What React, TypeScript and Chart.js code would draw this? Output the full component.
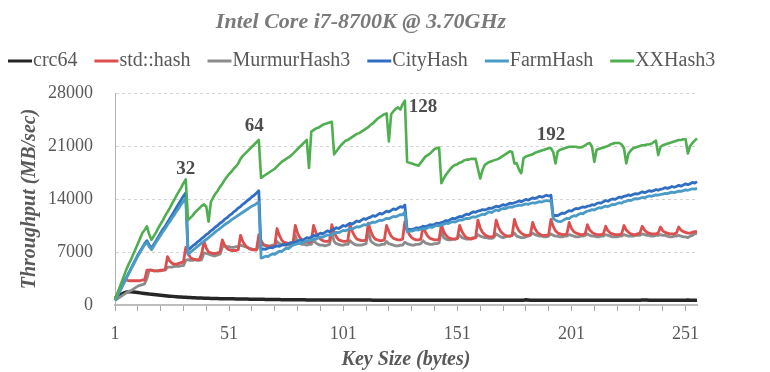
import React, { useEffect, useRef } from 'react';
import { Chart, registerables } from 'chart.js';

Chart.register(...registerables);

const TITLE = 'Intel Core i7-8700K @ 3.70GHz';
const X_TITLE = 'Key Size (bytes)';
const Y_TITLE = 'Throughput (MB/sec)';

const KEY_SIZES: string[] = Array.from({ length: 256 }, (_, i) => String(i + 1));
const Y_TICKS = [0, 7000, 14000, 21000, 28000];

const crc64 = [
  900,1100,1300,1450,1600,1700,1750,1760,1720,1680,1640,1600,1560,1520,1480,1440,
  1410,1380,1350,1320,1290,1260,1230,1200,1170,1140,1110,1090,1070,1050,1030,1010,
  990,975,960,945,930,920,910,900,890,880,870,860,850,845,840,835,
  830,825,820,815,810,805,800,795,790,785,780,775,770,765,760,755,
  750,745,740,735,730,725,720,715,710,705,700,700,695,695,690,690,
  685,685,680,680,675,675,670,670,665,665,660,660,660,660,660,660,
  655,655,655,650,650,650,650,650,650,650,645,645,645,645,645,645,
  645,640,640,640,640,640,640,640,640,640,640,640,640,640,640,640,
  640,640,640,640,640,640,640,640,640,640,640,640,630,630,630,630,
  630,630,630,630,630,630,630,630,630,630,630,630,630,630,630,630,
  630,630,630,630,630,630,630,630,630,630,630,630,630,630,630,630,
  630,630,630,640,680,660,630,630,630,630,630,630,630,630,630,630,
  630,630,630,630,630,630,630,630,630,630,630,630,630,630,630,630,
  620,620,620,620,620,620,620,620,620,620,620,620,620,620,620,620,
  620,620,620,620,620,620,620,650,670,650,620,620,620,620,620,620,
  620,620,620,620,620,620,620,620,620,620,620,650,620,620,620,640,
];

const stdHash = [
  700,1400,2100,2800,3300,3300,3200,3200,
  3200,3200,3200,3200,3300,3300,4600,4600,
  4600,4500,4500,4500,4600,4600,4700,6400,
  5800,5500,5400,5400,5500,5600,5700,7600,
  6800,6300,6100,6000,6000,6000,6800,8400,
  7500,7000,6900,6800,6800,6900,7000,8600,
  7900,7500,7300,7200,7200,7200,7300,9200,
  8400,7900,7600,7400,7300,7300,7300,9300,
  8500,8000,7800,7700,7700,7700,7800,10100,
  9200,8600,8300,8200,8100,8100,8200,10500,
  9500,8900,8600,8400,8300,8300,8400,10500,
  9600,9000,8700,8500,8400,8400,8500,10600,
  9600,9000,8600,8500,8400,8400,8500,10600,
  9700,9100,8700,8600,8500,8500,8600,10800,
  9800,9100,8700,8600,8500,8500,8600,10500,
  9700,9100,8800,8700,8600,8600,8700,11000,
  9900,9300,8900,8700,8600,8600,8700,10400,
  9600,9100,8800,8700,8600,8600,8700,10600,
  9700,9200,8900,8800,8700,8700,8800,10500,
  9700,9200,8900,8800,8700,8800,8900,11200,
  10200,9600,9300,9100,9000,9000,9100,11200,
  10300,9700,9400,9200,9100,9100,9200,11300,
  10400,9800,9500,9300,9200,9200,9300,10900,
  10100,9600,9400,9200,9200,9200,9300,11300,
  10400,9800,9500,9400,9300,9300,9400,10900,
  10100,9700,9500,9400,9300,9300,9400,10600,
  9900,9600,9400,9300,9300,9300,9400,10400,
  9800,9500,9400,9300,9300,9300,9400,10500,
  9900,9600,9400,9300,9300,9400,9500,10400,
  9900,9600,9500,9400,9400,9400,9500,10300,
  9800,9600,9500,9400,9400,9400,9500,10300,
  9900,9700,9600,9500,9500,9600,9700,9700,
];

const murmur3 = [
  600,800,1000,1200,1400,1600,1800,1900,
  2100,2300,2500,2600,2700,2800,3500,4600,
  4600,4500,4500,4500,4500,4600,4600,5000,
  5000,5000,5100,5100,5100,5200,5200,5900,
  6000,5900,5900,6000,5900,5900,6000,6900,
  6800,6700,6600,6500,6500,6600,6700,7600,
  7800,7700,7700,7600,7600,7700,7700,7900,
  7800,7700,7600,7500,7400,7300,7300,7800,
  8000,7900,7900,7800,7800,7900,7900,8400,
  8100,8000,7900,7900,7900,8000,8000,9200,
  8300,8100,8000,8000,7900,8000,8000,8600,
  8200,8000,7900,7900,7800,7900,8000,9600,
  8400,8100,8000,7900,7900,8000,8000,8500,
  8200,8000,7900,7900,7900,8000,8100,9800,
  8500,8200,8000,7900,7900,8000,8000,8400,
  8100,8000,7900,7800,7800,7900,7900,8300,
  8100,8000,7900,7900,8000,8000,8100,8500,
  8200,8100,8000,8000,8100,8100,8200,9900,
  8900,8700,8600,8600,8700,8700,8800,9200,
  8900,8800,8700,8700,8800,8900,8900,9300,
  9100,9000,8900,8900,8800,8800,8900,9400,
  9200,9000,8900,9000,9100,9100,9200,9500,
  9100,9000,8900,8900,9000,9100,9200,9500,
  9300,9200,9100,9100,9000,9000,9100,9400,
  9200,9100,9100,9000,9000,9100,9100,9300,
  9200,9100,9000,9000,9100,9100,9200,9400,
  9200,9100,9100,9000,9000,9100,9100,9300,
  9200,9100,9000,9000,9000,9100,9100,9300,
  9200,9100,9100,9100,9200,9200,9200,9400,
  9300,9200,9200,9100,9100,9200,9200,9300,
  9200,9200,9100,9000,9000,9100,9100,9200,
  9100,9000,9000,8900,9100,9200,9400,9500,
];

const cityHash = [
  600,1200,1800,2400,3000,3600,4200,4800,5400,6000,6600,7100,7600,8100,8500,7900,
  7500,8000,8500,9000,9500,10000,10400,10900,11400,11900,12400,12900,13400,13900,14400,14800,
  7300,7500,7800,8000,8300,8500,8800,9000,9300,9500,9800,10000,10300,10500,10800,11000,
  11300,11500,11800,12000,12300,12500,12800,13000,13300,13500,13800,14000,14300,14500,14800,15100,
  7300,7400,7350,7500,7600,7550,7700,7800,7750,7900,8000,7950,8100,8250,8200,8300,
  8400,8600,8500,8700,8900,8800,9000,9200,9100,9300,9500,9400,9600,9800,9700,9900,
  10000,10200,10100,10300,10500,10400,10600,10800,10700,10900,11100,11000,11200,11400,11300,11500,
  11600,11800,11700,11900,12100,12000,12200,12400,12300,12500,12700,12600,12800,13000,12900,13200,
  9900,10000,9950,10050,10200,10150,10250,10400,10350,10450,10600,10550,10650,10800,10750,10900,
  11000,11150,11100,11300,11450,11400,11550,11700,11650,11850,12000,11950,12150,12300,12250,12400,
  12450,12600,12550,12650,12800,12750,12900,13050,12950,13100,13250,13150,13300,13450,13400,13500,
  13600,13750,13650,13800,13950,13850,14000,14150,14050,14200,14350,14250,14350,14500,14400,14500,
  11700,11850,11800,12000,12150,12100,12300,12450,12400,12600,12750,12700,12850,12950,12900,13050,
  13100,13250,13200,13400,13500,13450,13650,13800,13700,13900,14000,13950,14100,14250,14200,14350,
  14400,14550,14450,14600,14700,14650,14800,14950,14850,14950,15100,15000,15100,15250,15150,15300,
  15350,15500,15400,15500,15650,15550,15650,15800,15700,15850,16000,15900,16000,16200,16100,16300,
];

const farmHash = [
  600,1150,1750,2350,2950,3550,4150,4750,5300,5900,6450,7000,7500,7950,8300,7700,
  7300,7800,8300,8750,9200,9700,10100,10600,11000,11500,11900,12400,12800,13300,13700,14100,
  6700,6950,7200,7450,7700,7950,8200,8450,8650,8900,9150,9400,9650,9900,10100,10350,
  10600,10800,11000,11250,11450,11650,11850,12050,12250,12450,12650,12850,13050,13200,13400,13600,
  6200,6300,6450,6400,6600,6750,6700,6900,7100,7050,7300,7500,7450,7700,7900,8000,
  8100,8250,8200,8350,8500,8450,8600,8750,8700,8850,9000,8950,9100,9250,9200,9350,
  9450,9600,9550,9700,9850,9800,9950,10100,10050,10200,10350,10300,10450,10600,10550,10700,
  10800,10950,10900,11050,11200,11150,11300,11450,11400,11550,11700,11650,11800,11950,11900,12300,
  9700,9800,9750,9850,9950,9900,10000,10100,10050,10200,10300,10250,10400,10500,10450,10600,
  10650,10800,10750,10900,11000,10950,11100,11250,11200,11350,11450,11400,11550,11650,11600,11750,
  11850,12000,11950,12150,12300,12200,12400,12550,12450,12650,12750,12700,12850,12950,12900,13050,
  13100,13200,13150,13250,13350,13300,13400,13500,13450,13550,13650,13600,13700,13800,13750,13800,
  11400,11200,11050,11000,11100,11300,11450,11400,11650,11800,11750,11950,12100,12050,12250,12400,
  12450,12600,12550,12700,12850,12800,12950,13050,13000,13150,13300,13250,13400,13500,13450,13650,
  13700,13850,13800,13950,14050,14000,14100,14200,14150,14300,14400,14350,14450,14550,14500,14600,
  14650,14750,14700,14800,14900,14850,14950,15050,15000,15100,15200,15150,15250,15350,15300,15400,
];

const xxHash3 = [
  700,1500,2300,3100,3900,4700,5400,6000,6700,7400,8100,8800,9500,9900,10400,9300,
  8600,9100,9600,10200,10700,11200,11800,12300,12800,13400,13900,14500,15000,15500,16100,16600,
  11200,11500,11800,12200,12500,12800,13100,13300,13000,11000,13600,14200,14700,15100,15600,16000,
  16500,16900,17300,17600,18000,18300,18700,19300,19700,20000,20300,20600,20900,21200,21500,21800,
  16800,17000,17200,17400,17600,17800,18000,18300,18600,18900,19100,19300,19500,19700,20000,20300,
  20600,20900,21200,21500,21800,18100,22900,23100,23300,23400,23600,23800,23900,24000,24100,24200,
  19900,20300,20700,21100,21400,21700,21800,22000,22200,22400,22600,22700,22900,23100,23300,23500,
  23800,24000,24300,24600,24800,25000,25200,25300,21600,25200,25600,25900,26100,25800,26500,27000,
  18900,18800,18700,18600,18500,18400,18800,19200,19600,19800,20000,20300,20600,20700,20800,16100,
  16700,17200,17600,18000,18300,18500,18600,18800,18900,19100,19200,19200,19300,19300,19300,18000,
  16700,17800,18500,18700,18900,19000,19100,19200,19300,19500,19700,19900,20100,20300,20200,18700,
  18700,17900,17400,19400,19600,19700,19800,19900,20100,20200,20300,20400,20500,20600,20700,20700,
  20200,18700,20300,20500,20600,20700,20800,20900,20900,20900,20900,20800,20800,20900,21100,21300,
  21400,20900,18900,20500,20600,20700,20800,20900,21000,21200,21300,21400,21400,21400,21200,20700,
  18700,20000,20400,20700,20800,20900,21000,21100,21100,21200,21200,21300,21500,21700,19800,20900,
  21100,21200,21300,21400,21500,21600,21700,21800,21800,21900,21900,20000,21000,21400,21700,22000,
];

const SERIES_NAMES = ['crc64', 'std::hash', 'MurmurHash3', 'CityHash', 'FarmHash', 'XXHash3'];
const SERIES_DATA = [crc64, stdHash, murmur3, cityHash, farmHash, xxHash3];
const SERIES_COLORS = ['#262626', '#dc4f4f', '#8c8c8c', '#2f6ec2', '#4a9bc6', '#4fae4f'];
const SERIES_WIDTHS = [3.5, 2.8, 2.8, 2.8, 2.8, 2.6];
const SERIES_ORDER = [5, 3, 4, 2, 1, 0];

const PEAK_TEXTS = ['32', '64', '128', '192'];
const PEAK_KEYS = [32, 62, 136, 192];
const PEAK_VALUES = [17900, 23600, 26200, 22400];

const SERIF = '"Liberation Serif", "DejaVu Serif", serif';

const overlayPlugin = {
  id: 'overlay',
  afterDraw(chart: any) {
    const ctx: CanvasRenderingContext2D = chart.ctx;
    const area = chart.chartArea;
    const xs = chart.scales.x;
    const ys = chart.scales.y;
    ctx.save();

    // Title
    ctx.font = `italic bold 22px ${SERIF}`;
    ctx.fillStyle = '#7a7a7a';
    ctx.textAlign = 'center';
    ctx.textBaseline = 'middle';
    ctx.fillText(TITLE, 361, 22);

    // Legend
    ctx.font = `20px ${SERIF}`;
    ctx.textAlign = 'left';
    let lx = 8;
    const ly = 61;
    SERIES_NAMES.forEach((name, i) => {
      ctx.strokeStyle = SERIES_COLORS[i];
      ctx.lineWidth = 3;
      ctx.beginPath();
      ctx.moveTo(lx, ly);
      ctx.lineTo(lx + 24, ly);
      ctx.stroke();
      ctx.fillStyle = '#595959';
      ctx.fillText(name, lx + 25, ly);
      lx += 25 + ctx.measureText(name).width + 17;
    });

    // Axis titles
    ctx.font = `italic bold 20px ${SERIF}`;
    ctx.fillStyle = '#595959';
    ctx.textAlign = 'center';
    ctx.fillText(X_TITLE, (area.left + area.right) / 2, 360);
    ctx.save();
    ctx.translate(30, (area.top + area.bottom) / 2);
    ctx.rotate(-Math.PI / 2);
    ctx.fillText(Y_TITLE, 0, 0);
    ctx.restore();

    // Peak labels
    ctx.font = `bold 19px ${SERIF}`;
    ctx.fillStyle = '#4d4d4d';
    PEAK_TEXTS.forEach((t, i) => {
      const px = xs.getPixelForValue(PEAK_KEYS[i] - 1);
      const py = ys.getPixelForValue(PEAK_VALUES[i]);
      ctx.fillText(t, px, py);
    });

    ctx.restore();
  },
};

export default function App() {
  const canvasRef = useRef<HTMLCanvasElement | null>(null);

  useEffect(() => {
    const canvas = canvasRef.current;
    if (!canvas) return;
    const chart = new Chart(canvas, {
      type: 'line',
      data: {
        labels: KEY_SIZES,
        datasets: SERIES_NAMES.map((name, i) => ({
          label: name,
          data: SERIES_DATA[i],
          borderColor: SERIES_COLORS[i],
          backgroundColor: SERIES_COLORS[i],
          borderWidth: SERIES_WIDTHS[i],
          pointRadius: 0,
          tension: 0,
          fill: false,
          order: SERIES_ORDER[i],
          borderJoinStyle: 'round' as const,
        })),
      },
      options: {
        responsive: false,
        animation: false,
        devicePixelRatio: 1,
        layout: { padding: { top: 93, right: 73, left: 0, bottom: 0 } },
        plugins: {
          legend: { display: false },
          title: { display: false },
          tooltip: { enabled: false },
        },
        scales: {
          x: {
            type: 'category',
            afterFit: (scale: any) => { scale.height = 67; },
            ticks: {
              autoSkip: false,
              maxRotation: 0,
              minRotation: 0,
              padding: 12,
              color: '#595959',
              font: { family: SERIF, size: 18 },
              callback: (_v: any, index: number) =>
                index % 50 === 0 ? KEY_SIZES[index] : index % 10 === 0 ? '' : null,
            },
            grid: {
              display: true,
              drawOnChartArea: false,
              drawTicks: true,
              tickLength: 6,
              color: '#a6a6a6',
              lineWidth: 1,
            },
            border: { display: true, color: '#bdbdbd', width: 2 },
          },
          y: {
            type: 'linear',
            min: Y_TICKS[0],
            max: Y_TICKS[Y_TICKS.length - 1],
            afterFit: (scale: any) => { scale.width = 115; },
            afterBuildTicks: (scale: any) => {
              scale.ticks = Y_TICKS.map((v) => ({ value: v }));
            },
            ticks: {
              padding: 22,
              color: '#595959',
              font: { family: SERIF, size: 18 },
              callback: (v: any) => String(v),
            },
            grid: {
              drawTicks: false,
              color: (c: any) => (c.tick && c.tick.value === 0 ? 'rgba(0,0,0,0)' : '#d4d4d4'),
              lineWidth: 1,
            },
            border: { display: true, color: '#b3b3b3', width: 1, dash: [3, 3] },
          },
        },
      },
      plugins: [overlayPlugin],
    });
    return () => chart.destroy();
  }, []);

  return (
    <div style={{ position: 'fixed', left: 0, top: 0, width: 770, height: 372, background: '#fff' }}>
      <canvas ref={canvasRef} width={770} height={372} style={{ display: 'block' }} />
    </div>
  );
}
